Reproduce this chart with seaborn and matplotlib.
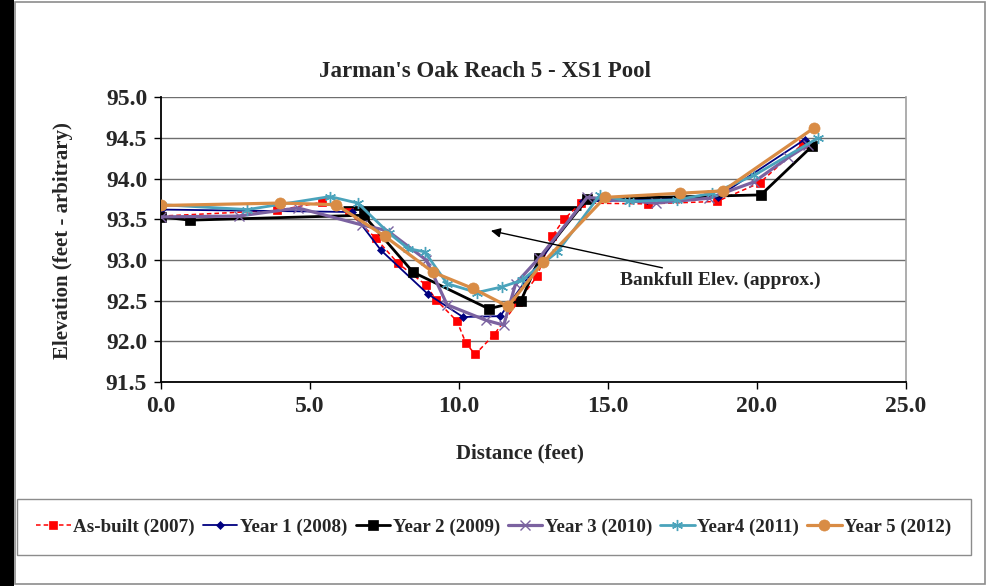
"""
Jarman's Oak Reach 5 - XS1 Pool cross-section survey chart.
"""

import matplotlib

matplotlib.use("Agg")
import matplotlib.pyplot as plt
import seaborn as sns
from matplotlib.patches import Rectangle

# Data (distance in feet, elevation in feet)
asbuilt_x = [0.0, 3.9, 5.4, 6.3, 7.2, 7.95, 8.9, 9.23, 9.93, 10.23, 10.54,
             11.17, 11.97, 12.62, 13.12, 13.52, 14.09, 16.34, 18.66, 20.1, 21.54]
asbuilt_y = [93.54, 93.61, 93.71, 93.59, 93.27, 92.96, 92.69, 92.51, 92.25, 91.98,
             91.84, 92.08, 92.48, 92.80, 93.29, 93.50, 93.70, 93.69, 93.72, 93.95, 94.43]

year1_x = [0.0, 6.4, 7.38, 8.96, 10.13, 11.38, 12.7, 14.16, 16.3, 18.7, 21.6]
year1_y = [93.62, 93.59, 93.12, 92.58, 92.30, 92.31, 92.98, 93.72, 93.74, 93.78, 94.48]

year2_x = [0.0, 0.97, 6.8, 8.46, 11.0, 12.08, 12.7, 14.3, 20.13, 21.85]
year2_y = [93.53, 93.49, 93.55, 92.85, 92.40, 92.50, 93.02, 93.75, 93.80, 94.40]

year3_x = [0.0, 2.6, 4.6, 6.75, 7.6, 8.9, 9.6, 10.9, 11.5, 11.9, 12.7,
           14.3, 16.6, 18.4, 19.9, 21.05, 21.7]
year3_y = [93.53, 93.54, 93.64, 93.43, 93.36, 93.00, 92.45, 92.26, 92.20, 92.71, 93.03,
           93.77, 93.70, 93.76, 93.96, 94.26, 94.41]

year4_x = [0.0, 2.9, 5.67, 6.6, 7.65, 8.3, 8.85, 9.6, 10.6, 11.44, 12.1,
           13.3, 14.73, 15.7, 17.3, 18.5, 19.9, 22.05]
year4_y = [93.68, 93.62, 93.78, 93.70, 93.33, 93.14, 93.10, 92.71, 92.60, 92.67, 92.75,
           93.10, 93.80, 93.72, 93.74, 93.82, 94.04, 94.50]

year5_x = [0.0, 4.0, 5.88, 7.52, 9.13, 10.47, 11.64, 12.82, 14.9, 17.4, 18.86, 21.9]
year5_y = [93.67, 93.70, 93.68, 93.29, 92.85, 92.65, 92.43, 92.97, 93.77, 93.82, 93.85, 94.62]

bankfull_x = [6.1, 14.1]
bankfull_y = [93.64, 93.64]

x_ticks = [0.0, 5.0, 10.0, 15.0, 20.0, 25.0]
y_ticks = [91.5, 92.0, 92.5, 93.0, 93.5, 94.0, 94.5, 95.0]


def setup_plotting():
    sns.set_style("white")
    plt.rcParams["font.family"] = ["Liberation Serif", "DejaVu Serif"]
    plt.rcParams["font.weight"] = "bold"


def draw_chart():
    fig = plt.figure(figsize=(9.88, 5.86), dpi=100)
    ax = fig.add_axes([0.163, 0.348, 0.754, 0.486])

    # outer frame of the chart area and the black strip on the left
    fig.patches.append(Rectangle((0, 0), 0.0142, 1, transform=fig.transFigure,
                                 facecolor="black", edgecolor="none"))
    fig.patches.append(Rectangle((0.0152, 0.004), 0.982, 0.992, transform=fig.transFigure,
                                 facecolor="none", edgecolor="#8c8c8c", linewidth=1.2))

    series = [
        (asbuilt_x, asbuilt_y, "As-built (2007)", dict(color="#ff0000", lw=1.1, ls=(0, (3, 2)),
                                                       marker="s", ms=5.5)),
        (year1_x, year1_y, "Year 1 (2008)", dict(color="#000080", lw=1.3, marker="D", ms=4)),
        (year2_x, year2_y, "Year 2 (2009)", dict(color="black", lw=2.0, marker="s", ms=6.5)),
        (year3_x, year3_y, "Year 3 (2010)", dict(color="#7b62a0", lw=2.3, marker="x", ms=7,
                                                 mew=1.0)),
        (year4_x, year4_y, "Year4 (2011)", dict(color="#4aa3bb", lw=2.0, marker=(6, 2, 0),
                                                ms=8, mew=1.0)),
        (year5_x, year5_y, "Year 5 (2012)", dict(color="#d98c45", lw=2.3, marker="o", ms=8)),
    ]

    for xs, ys, label, style in series:
        sns.lineplot(x=xs, y=ys, ax=ax, sort=False, estimator=None, label=label,
                     color=style["color"], linewidth=style["lw"],
                     linestyle=style.get("ls", "-"), marker=style["marker"],
                     markersize=style["ms"], markeredgewidth=style.get("mew", 0.5),
                     markeredgecolor=style["color"], zorder=3)

    # approximate bankfull elevation
    ax.plot(bankfull_x, bankfull_y, color="black", linewidth=3.4, zorder=2.5,
            solid_capstyle="butt")
    ax.annotate("Bankfull Elev. (approx.)", xy=(11.07, 93.36), xytext=(15.4, 92.75),
                fontsize=14, fontweight="bold", va="center", ha="left",
                arrowprops=dict(arrowstyle="-|>", color="black", lw=1.0,
                                mutation_scale=14, shrinkA=2, shrinkB=0))

    ax.set_xlim(0, 25)
    ax.set_ylim(91.5, 95.0)
    ax.set_xticks(x_ticks)
    ax.set_yticks(y_ticks)
    ax.set_xticklabels([f"{v:.1f}" for v in x_ticks], fontsize=17, fontweight="bold")
    ax.set_yticklabels([f"{v:.1f}" for v in y_ticks], fontsize=17, fontweight="bold")
    ax.tick_params(axis="both", direction="out", length=5, width=1, color="black",
                   bottom=True, left=True, pad=5)

    ax.grid(axis="y", color="#6e6e6e", linewidth=1.0)
    ax.set_axisbelow(True)
    for side in ["left", "bottom"]:
        ax.spines[side].set_color("black")
        ax.spines[side].set_linewidth(1.3)
    ax.spines["top"].set_visible(False)
    ax.spines["right"].set_color("#a0a0a0")
    ax.spines["right"].set_linewidth(1.2)

    ax.set_title("Jarman's Oak Reach 5 - XS1 Pool", fontsize=16.5, fontweight="bold",
                 x=0.435, y=1.07, pad=0)
    ax.set_xlabel("Distance (feet)", fontsize=15, fontweight="bold")
    ax.set_ylabel("Elevation (feet - arbitrary)", fontsize=15, fontweight="bold")
    ax.xaxis.set_label_coords(0.482, -0.214)
    ax.yaxis.set_label_coords(-0.118, 0.498)

    handles, labels = ax.get_legend_handles_labels()
    ax.get_legend().remove()
    leg = fig.legend(handles, labels, loc="center", bbox_to_anchor=(0.5, 0.101), ncol=6,
                     frameon=True, fancybox=False, edgecolor="#707070",
                     prop={"size": 13.7, "weight": "bold"}, handlelength=1.8,
                     handletextpad=0.15, columnspacing=0.42, borderpad=1.0,
                     borderaxespad=0)
    leg.get_frame().set_linewidth(1.0)

    fig.savefig("out.png", dpi=100, facecolor="white")
    plt.close(fig)


def main():
    setup_plotting()
    draw_chart()


if __name__ == "__main__":
    main()
